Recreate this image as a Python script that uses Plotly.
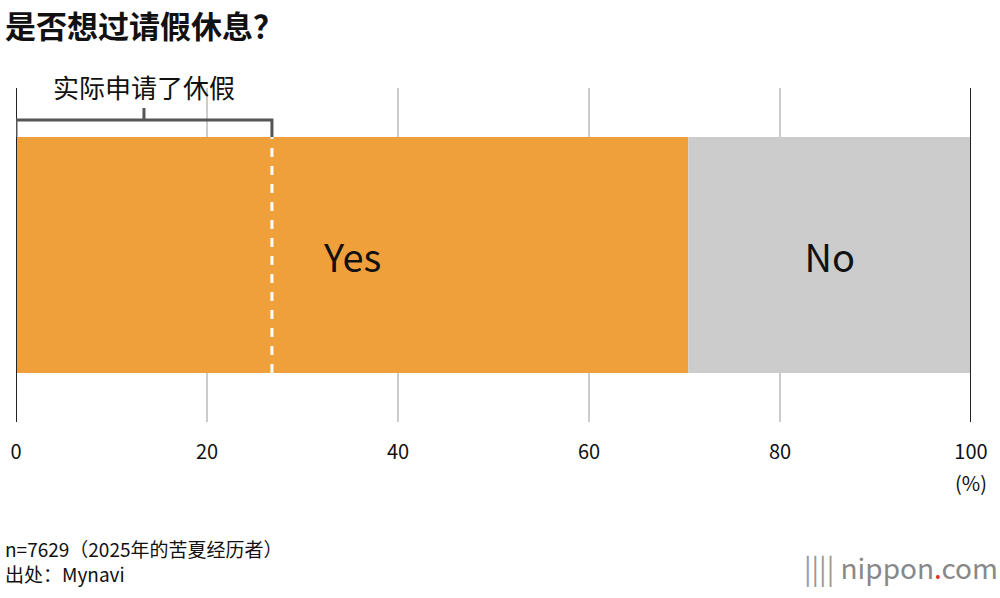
import plotly.graph_objects as go

categories = ["Yes", "No"]
values = [70.4, 29.6]
applied_leave = 26.8
colors = ["#f0a03a", "#cccccc"]
tick_vals = [0, 20, 40, 60, 80, 100]
tick_text = ["0", "20", "40", "60", "80", "100"]

F = "Noto Sans CJK SC"
fig = go.Figure()
base = 0
for c, v, col in zip(categories, values, colors):
    fig.add_trace(go.Bar(x=[v], y=[0], base=[base], orientation="h", width=0.706,
                         marker=dict(color=col, line=dict(width=0)), showlegend=False,
                         text=[c], textposition="inside", insidetextanchor="middle",
                         textfont=dict(family=F, size=38, color="#111")))
    base += v

shapes = [
    dict(type="line", xref="x", yref="paper", x0=0, x1=0, y0=0, y1=1, line=dict(color="#222", width=2)),
    dict(type="line", xref="x", yref="paper", x0=100, x1=100, y0=0, y1=1, line=dict(color="#222", width=2)),
    dict(type="line", xref="x", yref="y", x0=applied_leave, x1=applied_leave, y0=-0.353, y1=0.353,
         line=dict(color="white", width=3, dash="dash")),
    dict(type="path", xref="x", yref="y",
         path=f"M 0,0.353 L 0,0.404 L {applied_leave},0.404 L {applied_leave},0.353",
         line=dict(color="#555", width=3)),
    dict(type="line", xref="x", yref="y", x0=applied_leave/2, x1=applied_leave/2, y0=0.404, y1=0.44,
         line=dict(color="#555", width=3)),
]
fig.update_layout(
    width=1000, height=598, margin=dict(l=16, r=29, t=88, b=176),
    paper_bgcolor="white", plot_bgcolor="white", barmode="overlay",
    shapes=shapes,
    xaxis=dict(range=[0, 100], tickvals=tick_vals, ticktext=tick_text, showgrid=True,
               gridcolor="#cccccc", gridwidth=2, zeroline=False, showline=False, automargin=False,
               ticklabeloverflow="allow",
               tickfont=dict(family=F, size=20, color="#111"), ticklabelstandoff=16),
    yaxis=dict(range=[-0.5, 0.5], visible=False, automargin=False),
    annotations=[
        dict(text="<b>是否想过请假休息？</b>", xref="paper", yref="paper", x=-0.014, y=1.19,
             xanchor="left", yanchor="middle", showarrow=False, font=dict(family=F, size=31, color="#111")),
        dict(text="实际申请了休假", xref="x", yref="paper", x=applied_leave/2, y=1.003,
             xanchor="center", yanchor="middle", showarrow=False, font=dict(family=F, size=26, color="#111")),
        dict(text="(%)", xref="x", yref="paper", x=100, y=-0.18, xanchor="center", yanchor="middle",
             showarrow=False, font=dict(family=F, size=20, color="#111")),
        dict(text="n=7629（2025年的苦夏经历者）<br>出处：Mynavi", xref="paper", yref="paper", x=-0.014, y=-0.5,
             xanchor="left", yanchor="bottom", align="left", showarrow=False,
             font=dict(family=F, size=19, color="#111")),
        dict(text="<span style='color:#999'>||||</span> nippon<span style='color:#e0302a'>.</span>com",
             xref="paper", yref="paper", x=1.03, y=-0.5, xanchor="right", yanchor="bottom",
             showarrow=False, font=dict(family=F, size=28, color="#888")),
    ],
)
fig.write_html("out.html", post_script="document.body.style.margin='0';",
               config={"displayModeBar": False})
